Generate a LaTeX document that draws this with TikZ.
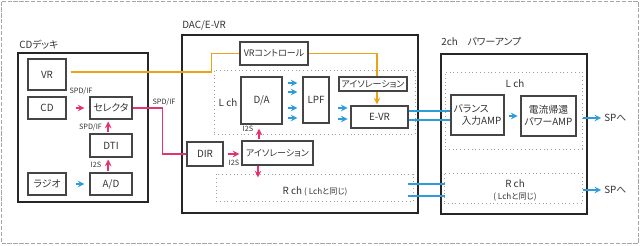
\documentclass[tikz,border=0pt]{standalone}
\usepackage{fontspec}
\setmainfont{Noto Sans CJK JP}[RawFeature=+palt]
\usepackage{tikz}
\usetikzlibrary{positioning, calc}
\definecolor{darktext}{HTML}{333333}
\definecolor{boxline}{HTML}{454545}
\definecolor{groupline}{HTML}{262626}
\definecolor{pinkline}{HTML}{E6336E}
\definecolor{blueline}{HTML}{2E9BDB}
\definecolor{orangeline}{HTML}{E8A317}
\newcommand{\mainsize}{\fontsize{7}{8.5}\selectfont}
\newcommand{\kanasize}{\fontsize{6.4}{7.5}\selectfont}
\newcommand{\lbltext}{\fontsize{5.2}{6}\selectfont}
\newcommand{\notetext}{\fontsize{5.8}{6.5}\selectfont}
\tikzset{
  blockbox/.style 2 args={draw=boxline, line width=0.9pt, fill=white, inner sep=0pt,
    minimum width=#1*0.25mm, minimum height=#2*0.25mm, align=center},
  groupbox/.style 2 args={draw=groupline, line width=1.4pt, inner sep=0pt,
    minimum width=#1*0.25mm, minimum height=#2*0.25mm},
  chbox/.style 2 args={draw=gray!75, dotted, line width=0.7pt, inner sep=0pt,
    minimum width=#1*0.25mm, minimum height=#2*0.25mm},
  smalllbl/.style={font=\lbltext, inner sep=0pt},
  parrow/.style={->, >=stealth, line width=1.1pt, color=pinkline},
  barrow/.style={->, >=stealth, line width=1.1pt, color=blueline},
  oarrow/.style={->, >=stealth, line width=1.1pt, color=orangeline},
  pline/.style={line width=1pt, color=pinkline},
  bline/.style={line width=1pt, color=blueline},
  oline/.style={line width=1pt, color=orangeline}
}
\begin{document}
\begin{tikzpicture}[x=0.25mm, y=-0.25mm, every node/.style={font=\mainsize, text=darktext}]
  \useasboundingbox (0,0) rectangle (640,245);
  % Outer frame
  \draw[gray!70, dash pattern=on 3pt off 1.2pt, line width=0.6pt] (1.5,1.5) rectangle (638.5,243.5);

  % CD deck
  \node[groupbox={130}{149}] (cddeck) at (83,127.5) {};
  \node[anchor=west, inner sep=0pt] (cdtitle) at (19,45) {CDデッキ};
  \node[blockbox={38}{31}] (vr) at (47,74.5) {VR};
  \node[blockbox={38}{22}] (cd) at (47,108) {CD};
  \node[blockbox={42}{22}] (sel) at (111,108) {セレクタ};
  \node[blockbox={42}{23}] (dti) at (111,145.5) {DTI};
  \node[blockbox={38}{22}] (radio) at (47,184) {ラジオ};
  \node[blockbox={42}{22}] (ad) at (111,184) {A/D};

  \draw[parrow, shorten <=6.4pt, shorten >=3.5pt] (cd) -- (sel);
  \draw[barrow, shorten <=6.4pt, shorten >=3.5pt] (radio) -- (ad);
  \draw[parrow, shorten <=0.7pt, shorten >=1.4pt] ([xshift=-2pt]ad.north) -- ([xshift=-2pt]dti.south);
  \draw[parrow, shorten <=0.7pt, shorten >=1.4pt] ([xshift=-2pt]dti.north) -- ([xshift=-2pt]sel.south);

  \node[smalllbl] (lspdcd) at (81,91) {SPD/IF};
  \node[smalllbl] (lspddti) at (90.5,127) {SPD/IF};
  \node[smalllbl] (li2sad) at (96,165) {I2S};
  \node[smalllbl] (lspdout) at (164,102) {SPD/IF};

  % DAC / E-VR
  \node[groupbox={236}{178}] (dac) at (300,124) {};
  \node[anchor=west, inner sep=0pt] (dactitle) at (182,25) {DAC/E-VR};
  \node[blockbox={68}{23}, font=\kanasize] (vrc) at (274,53.5) {VRコントロール};
  \node[chbox={201}{64}] (lchd) at (314.5,102) {};
  \node (lchdtxt) at (228,103) {L ch};
  \node[blockbox={41}{47}] (da) at (261.5,100.5) {D/A};
  \node[blockbox={26}{46}] (lpf) at (316,100) {LPF};
  \node[blockbox={68}{14}, font=\kanasize] (iso1) at (373,84) {アイソレーション};
  \node[blockbox={57}{22}] (evr) at (379.5,117) {E-VR};
  \node[blockbox={36}{24}] (dir) at (205,154) {DIR};
  \node[blockbox={71}{24}, font=\kanasize] (iso2) at (277.5,153) {アイソレーション};
  \node[chbox={197}{27}] (rchd) at (314.5,187.5) {};
  \node (rchdtxt) at (315,191) {R ch \notetext( Lchと同じ)};

  \foreach \y in {83,92,108,118}
    \draw[barrow, shorten <=3.5pt, shorten >=3.5pt] (da.east |- 0,\y) -- (lpf.west |- 0,\y);
  \foreach \y in {108,119}
    \draw[barrow, shorten <=5.7pt, shorten >=2pt] (lpf.east |- 0,\y) -- (evr.west |- 0,\y);

  \draw[parrow, shorten <=2.8pt, shorten >=1.4pt] (dir.east) -- (dir.east -| iso2.west);
  \node[smalllbl] (li2sdir) at (234,163) {I2S};
  \draw[parrow, shorten <=0.7pt, shorten >=2.8pt] (iso2.north -| 259,0) -- (da.south -| 259,0);
  \node[smalllbl] (li2sda) at (248,129) {I2S};
  \draw[parrow, shorten >=-2.8pt] (iso2.south -| 258,0) -- (rchd.north -| 258,0);

  % Control and signal lines
  \draw[oline] ([shift={(2.8pt,1.8pt)}]vr.east) -| ([xshift=-19.8pt]vrc.west) -- (vrc.west);
  \coordinate (isoin) at ([xshift=2.8pt]iso1.north);
  \coordinate (isoout) at ([xshift=2.8pt]iso1.south);
  \draw[oline] (vrc.east) -| (isoin);
  \draw[oarrow, shorten >=0.7pt] (isoout) -- (isoout |- evr.north);
  \draw[pline] (sel.east) -- ++(30,0) |- (dir.west);

  % 2ch power amp
  \node[groupbox={146}{160}] (amp) at (514,134) {};
  \node[anchor=west, inner sep=0pt] (amptitle) at (441,42) {2ch\quad パワーアンプ};
  \node[chbox={137}{77}] (lcha) at (513.5,110.5) {};
  \node (lchatxt) at (515,84) {L ch};
  \node[blockbox={53}{40}, align=left] (bal) at (477.5,115) {バランス\\\hspace{0.8em}入力AMP};
  \node[blockbox={55}{40}] (cur) at (548.5,116) {電流帰還\\パワーAMP};
  \node[chbox={138}{30}] (rcha) at (513,188) {};
  \node[align=center] (rchatxt) at (515,190) {R ch\\\notetext( Lchと同じ)};
  \node[anchor=west, inner sep=0pt] (spl) at (604,118) {SPへ};
  \node[anchor=west, inner sep=0pt] (spr) at (604,190) {SPへ};

  \foreach \y in {111,120}
    \draw[bline] (evr.east |- 0,\y) -- (bal.west |- 0,\y);
  \coordinate (rchdout) at ([xshift=-4.2pt]rchd.east);
  \foreach \y in {184,196}
    \draw[bline, shorten >=-1.4pt] (rchdout |- 0,\y) -- (rcha.west |- 0,\y);
  \draw[barrow, shorten <=2.8pt, shorten >=2pt] (bal.east |- 0,116) -- (cur.west |- 0,116);
  \draw[barrow, shorten >=2pt] (lcha.east |- spl.west) -- (spl.west);
  \draw[barrow, shorten >=2pt] (rcha.east |- spr.west) -- (spr.west);
\end{tikzpicture}
\end{document}
